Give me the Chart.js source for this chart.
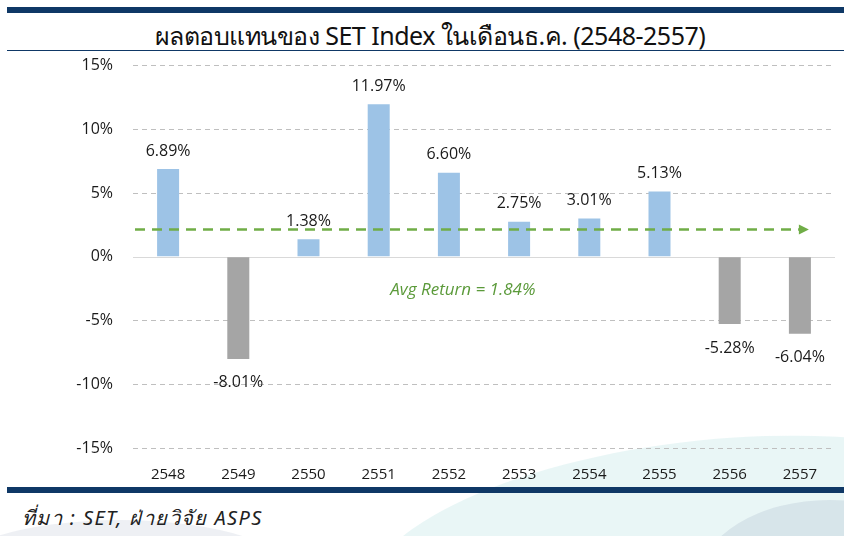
<!DOCTYPE html>
<html>
<head>
<meta charset="utf-8">
<script src="https://cdn.jsdelivr.net/npm/chart.js@4/dist/chart.umd.min.js"></script>
<style>
  html, body { margin: 0; padding: 0; background: #fff; }
  body { width: 844px; height: 536px; position: relative; overflow: hidden; font-family: "Noto Sans", "DejaVu Sans", sans-serif; }
  #swoosh { position: absolute; left: 360px; top: 440px; width: 700px; height: 260px; border-radius: 50%; background: rgba(120, 200, 200, 0.16); transform: rotate(-6deg); }
  #arcR { position: absolute; left: 700px; top: 500px; width: 260px; height: 160px; border-radius: 50%; border: 40px solid rgba(90, 110, 150, 0.12); box-sizing: border-box; }
  #arcL { position: absolute; left: -60px; top: 520px; width: 360px; height: 120px; border-radius: 50%; border: 30px solid rgba(90, 110, 150, 0.10); box-sizing: border-box; }
  #topBar { position: absolute; left: 7px; right: 0; top: 7px; height: 6px; background: #0F3866; }
  #title { position: absolute; left: 0; width: 860px; top: 16px; text-align: center; font-size: 25px; color: #111; letter-spacing: -0.5px; }
  #titleLine { position: absolute; left: 7px; right: 0; top: 50px; height: 1px; background: #0F3866; }
  #wrap { position: absolute; left: 0; top: 36px; width: 844px; height: 448px; }
  #bottomBar { position: absolute; left: 7px; right: 0; top: 487px; height: 6px; background: #0F3866; }
  #source { position: absolute; left: 22px; top: 502px; font-size: 20px; font-style: italic; color: #222; letter-spacing: 1.4px; }
</style>
</head>
<body>
<div id="swoosh"></div>
<div id="arcR"></div>
<div id="arcL"></div>
<div id="topBar"></div>
<div id="title">ผลตอบแทนของ SET Index ในเดือนธ.ค. (2548-2557)</div>
<div id="titleLine"></div>
<div id="wrap"><canvas id="setChart"></canvas></div>
<div id="bottomBar"></div>
<div id="source">ที่มา : SET, ฝ่ายวิจัย ASPS</div>
<script>
const years = ['2548', '2549', '2550', '2551', '2552', '2553', '2554', '2555', '2556', '2557'];
const returns = [6.89, -8.01, 1.38, 11.97, 6.60, 2.75, 3.01, 5.13, -5.28, -6.04];
const yTicks = [15, 10, 5, 0, -5, -10, -15];
const avgReturn = 1.84;
const avgLineLevel = 2.2;   // where the arrow is drawn in the picture

const barColors = returns.map(v => v >= 0 ? '#9DC3E6' : '#A5A5A5');

// bar value labels, zero line and the average arrow
const extras = {
  id: 'extras',
  beforeDatasetsDraw(chart) {
    const c = chart.ctx, y = chart.scales.y, a = chart.chartArea;
    const y0 = Math.round(y.getPixelForValue(0));
    c.save();
    c.strokeStyle = '#D9D9D9';
    c.lineWidth = 1;
    c.beginPath();
    c.moveTo(a.left, y0 + 0.5);
    c.lineTo(a.right, y0 + 0.5);
    c.stroke();
    c.restore();
  },
  afterDatasetsDraw(chart) {
    const c = chart.ctx, x = chart.scales.x, y = chart.scales.y, a = chart.chartArea;
    const meta = chart.getDatasetMeta(0);
    c.save();
    c.font = '16px "Open Sans", sans-serif';
    c.fillStyle = '#1a1a1a';
    c.textAlign = 'center';
    c.textBaseline = 'middle';
    meta.data.forEach((bar, i) => {
      const v = returns[i];
      const ty = v >= 0 ? bar.y - 18 : bar.y + 24;
      c.fillText(v.toFixed(2) + '%', bar.x, ty);
    });

    // average line
    const ya = Math.round(y.getPixelForValue(avgLineLevel)) + 0.5;
    const xEnd = x.getPixelForValue(years.length - 1) + 3;
    c.strokeStyle = '#70AD47';
    c.lineWidth = 2.5;
    c.setLineDash([10, 7]);
    c.beginPath();
    c.moveTo(a.left + 2, ya);
    c.lineTo(xEnd - 4, ya);
    c.stroke();
    c.setLineDash([]);
    c.fillStyle = '#70AD47';
    c.beginPath();
    c.moveTo(xEnd - 4, ya - 5);
    c.lineTo(xEnd + 6, ya);
    c.lineTo(xEnd - 4, ya + 5);
    c.closePath();
    c.fill();

    c.font = 'italic 17px "Open Sans", sans-serif';
    c.fillStyle = '#5B9A3A';
    c.fillText('Avg Return = ' + avgReturn.toFixed(2) + '%', x.getPixelForValue(4) + 14, y.getPixelForValue(-2.65));
    c.restore();
  }
};

new Chart(document.getElementById('setChart'), {
  type: 'bar',
  data: {
    labels: years,
    datasets: [{
      data: returns,
      backgroundColor: barColors,
      barPercentage: 0.55,
      categoryPercentage: 0.57
    }]
  },
  options: {
    responsive: true,
    maintainAspectRatio: false,
    animation: false,
    layout: { padding: { top: 12, right: 9, left: 0, bottom: 0 } },
    plugins: {
      legend: { display: false },
      tooltip: { enabled: false }
    },
    scales: {
      x: {
        grid: { display: false },
        border: { display: false },
        ticks: { color: '#1a1a1a', padding: 10, font: { family: 'Open Sans', size: 15 } },
        afterFit: s => { s.height = 36; }
      },
      y: {
        min: -15,
        max: 15,
        afterBuildTicks: s => { s.ticks = yTicks.map(v => ({ value: v })); },
        grid: { color: c => c.tick && c.tick.value === 0 ? 'rgba(0,0,0,0)' : '#BFBFBF', lineWidth: 1, drawTicks: false },
        border: { display: false, dash: [5, 4] },
        ticks: {
          color: '#1a1a1a',
          padding: 20,
          font: { family: 'Open Sans', size: 16 },
          callback: v => v + '%'
        },
        afterFit: s => { s.width = 133; }
      }
    }
  },
  plugins: [extras]
});
</script>
</body>
</html>
